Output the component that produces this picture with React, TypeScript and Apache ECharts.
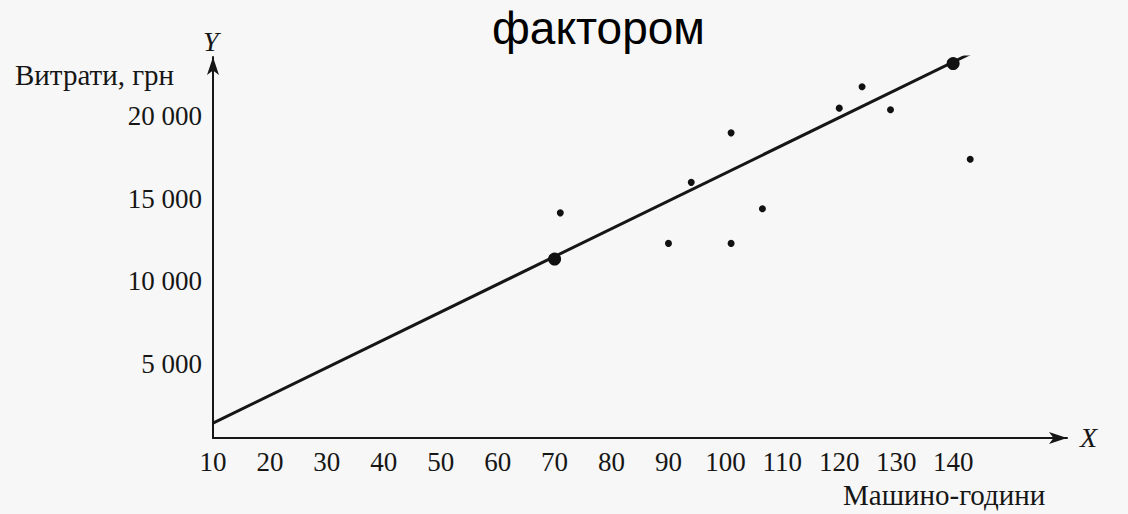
import React, { useEffect, useRef } from "react";
import * as echarts from "echarts";

const xTicks = [10, 20, 30, 40, 50, 60, 70, 80, 90, 100, 110, 120, 130, 140];
const yTickValues = [5000, 10000, 15000, 20000];
const observations: [number, number][] = [
  [71, 14150],
  [90, 12300],
  [94, 16000],
  [101, 19000],
  [101, 12300],
  [106.5, 14400],
  [120, 20500],
  [124, 21800],
  [129, 20400],
  [143, 17400],
];
const highPoints: [number, number][] = [
  [70, 11350],
  [140, 23200],
];
const regressionLine: [number, number][] = [
  [10, 1400],
  [143, 23800],
];

const fmt = (v: number) => String(v).replace(/\B(?=(\d{3})+(?!\d))/g, " ");

export default function App() {
  const ref = useRef<HTMLDivElement>(null);
  useEffect(() => {
    document.body.style.margin = "0";
    const chart = echarts.init(ref.current!, null, { renderer: "svg" });
    const ink = "#161616";
    const serif = "'Liberation Serif', 'DejaVu Serif', serif";
    chart.setOption({
      animation: false,
      backgroundColor: "#f7f7f7",
      grid: { left: 213, right: 61, top: 57, bottom: 76 },
      xAxis: {
        type: "value",
        min: 10,
        max: 160,
        interval: 10,
        splitLine: { show: false },
        axisTick: { show: false },
        axisLine: {
          show: true,
          onZero: false,
          symbol: ["none", "arrow"],
          symbolSize: [9, 18],
          lineStyle: { color: ink, width: 2 },
        },
        axisLabel: {
          color: ink,
          fontFamily: serif,
          fontSize: 27,
          margin: 10,
          formatter: (v: number) => (xTicks.includes(v) ? String(v) : ""),
        },
      },
      yAxis: {
        type: "value",
        min: 500,
        max: 23600,
        splitLine: { show: false },
        axisTick: { show: false },
        axisLine: {
          show: true,
          onZero: false,
          symbol: ["none", "arrow"],
          symbolSize: [9, 18],
          lineStyle: { color: ink, width: 2 },
        },
        axisLabel: {
          color: ink,
          fontFamily: serif,
          fontSize: 27,
          margin: 11,
          customValues: yTickValues,
          formatter: (v: number) => fmt(v),
        },
      },
      series: [
        {
          type: "line",
          data: regressionLine,
          symbol: "none",
          lineStyle: { color: ink, width: 3 },
          z: 2,
        },
        {
          type: "scatter",
          data: observations,
          symbolSize: 7,
          itemStyle: { color: "#111", opacity: 1 },
          z: 3,
        },
        {
          type: "scatter",
          data: highPoints,
          symbolSize: 13,
          itemStyle: { color: "#111", opacity: 1 },
          z: 3,
        },
      ],
      graphic: [
        {
          type: "text",
          left: 492,
          top: 5,
          style: {
            text: "фактором",
            font: "46px 'Liberation Sans', Arial, sans-serif",
            fill: "#000",
          },
        },
        {
          type: "text",
          left: 15,
          top: 60,
          style: { text: "Витрати, грн", font: `29px ${serif}`, fill: ink },
        },
        {
          type: "text",
          left: 203,
          top: 27,
          style: { text: "Y", font: `italic 28px ${serif}`, fill: ink },
        },
        {
          type: "text",
          left: 1080,
          top: 423,
          style: { text: "X", font: `italic 28px ${serif}`, fill: ink },
        },
        {
          type: "text",
          left: 843,
          top: 480,
          style: { text: "Машино-години", font: `29px ${serif}`, fill: ink },
        },
      ],
    });
    return () => chart.dispose();
  }, []);
  return (
    <div
      ref={ref}
      style={{ position: "fixed", left: 0, top: 0, width: 1128, height: 514 }}
    />
  );
}
